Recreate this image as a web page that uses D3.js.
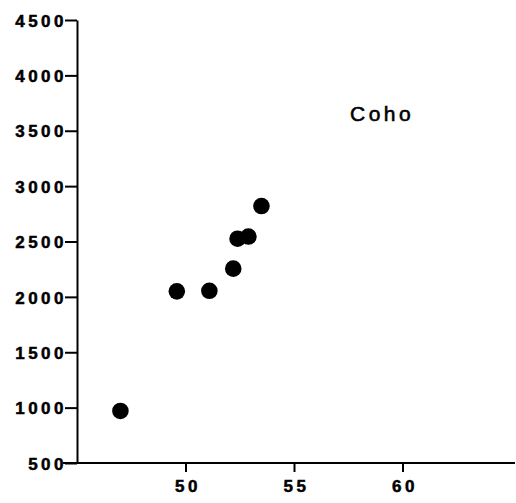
<!DOCTYPE html>
<html>
<head>
<meta charset="utf-8">
<script src="https://cdn.jsdelivr.net/npm/d3@7"></script>
<style>
  html, body { margin: 0; padding: 0; background: #fff; }
  svg { display: block; }
  .tick text { font-family: "Liberation Sans", Arial, sans-serif; font-weight: bold; font-size: 17px; letter-spacing: 3.5px; fill: #000; stroke: #000; stroke-width: 0.5px; }
</style>
</head>
<body>
<svg id="chart" width="516" height="503"></svg>
<script>
// Coho: length vs weight
const lengths = [47.0, 49.6, 51.1, 52.2, 52.4, 52.9, 53.5];
const weights = [970, 2050, 2055, 2255, 2525, 2545, 2820];
const xTicks = [50, 55, 60];
const yTicks = [500, 1000, 1500, 2000, 2500, 3000, 3500, 4000, 4500];
const speciesLabel = "Coho";

const svg = d3.select("#chart");

const x = d3.scaleLinear().domain([45, 65]).range([77, 511]);
const y = d3.scaleLinear().domain([500, 4500]).range([463, 20]);

// y axis
const yAxis = svg.append("g")
  .attr("transform", `translate(${x(45)},0)`)
  .call(d3.axisLeft(y).tickValues(yTicks).tickSize(12).tickSizeOuter(0).tickPadding(1).tickFormat(d3.format("d")));
yAxis.select(".domain").attr("stroke", "#000").attr("stroke-width", 2);
yAxis.selectAll(".tick line").attr("stroke", "#000").attr("stroke-width", 2);
yAxis.selectAll(".tick text").attr("dy", "0.36em").attr("dx", "3px");

// x axis (baseline runs a little past both ends)
const xAxis = svg.append("g")
  .attr("transform", `translate(0,${y(500)})`)
  .call(d3.axisBottom(x).tickValues(xTicks).tickSize(9).tickSizeOuter(0).tickPadding(8));
xAxis.select(".domain").remove();
xAxis.selectAll(".tick line").attr("stroke", "#000").attr("stroke-width", 2);
xAxis.selectAll(".tick text").attr("dx", "2px");
svg.append("line")
  .attr("x1", x(45) - 14).attr("x2", 515)
  .attr("y1", y(500)).attr("y2", y(500))
  .attr("stroke", "#000").attr("stroke-width", 2);

// points
svg.append("g").selectAll("circle")
  .data(lengths.map((l, i) => ({ l, w: weights[i] })))
  .join("circle")
  .attr("cx", d => x(d.l))
  .attr("cy", d => y(d.w))
  .attr("r", 8.3)
  .attr("fill", "#000");

// species label
svg.append("text")
  .attr("x", 350).attr("y", 121)
  .attr("font-family", "Liberation Sans, Arial, sans-serif")
  .attr("font-size", 21)
  .attr("letter-spacing", "3.5px")
  .attr("stroke", "#000").attr("stroke-width", 0.6)
  .attr("fill", "#000")
  .text(speciesLabel);
</script>
</body>
</html>
